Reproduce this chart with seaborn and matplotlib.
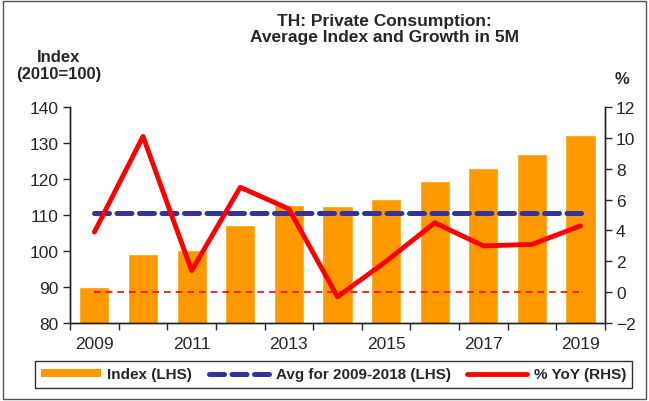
import seaborn as sns
import pandas as pd
import numpy as np
import matplotlib.pyplot as plt
from matplotlib.patches import Rectangle
from matplotlib.lines import Line2D
from matplotlib.patches import Patch

years = ['2009', '2010', '2011', '2012', '2013', '2014', '2015', '2016', '2017', '2018', '2019']
index_vals = [90.1, 99.1, 100.4, 107.3, 112.9, 112.4, 114.6, 119.6, 123.1, 126.9, 132.3]
yoy_vals = [3.9, 10.1, 1.4, 6.8, 5.4, -0.3, 2.0, 4.5, 3.0, 3.1, 4.3]
avg_index = 110.5
label_years = ['2009', '2011', '2013', '2015', '2017', '2019']

df = pd.DataFrame({'year': years, 'index': index_vals, 'yoy': yoy_vals})
df['pos'] = np.arange(len(df))
df['avg'] = avg_index
df['zero'] = 0.0

sns.set_style('white')
plt.rcParams['font.family'] = ['Liberation Sans', 'DejaVu Sans']

fig = plt.figure(figsize=(6.49, 4.02), dpi=100)
ax = fig.add_axes([0.108, 0.194, 0.824, 0.537])

sns.barplot(x='year', y='index', data=df, color='#FF9900', width=0.62, saturation=1, ax=ax)
sns.lineplot(x='pos', y='avg', data=df, color='#333399', lw=3.6, ax=ax)
ax.lines[-1].set_dashes([3, 1.5])
ax.lines[-1].set_dash_capstyle('round')
ax.set_ylim(80, 140)
ax.set_yticks(range(80, 141, 10))

ax2 = ax.twinx()
sns.lineplot(x='pos', y='zero', data=df, color='#FF0000', lw=1.2, ls=(0, (4, 3)), ax=ax2)
sns.lineplot(x='pos', y='yoy', data=df, color='#FF0000', lw=3.5, ax=ax2)
ax2.set_ylim(-2, 12)
ax2.set_yticks(range(-2, 13, 2))

ax.set_xlim(-0.5, 10.5)
ax.set_xticks(np.arange(-0.5, 11, 1))
ax.set_xticklabels([])
ax.set_xticks(range(0, 11, 2), minor=True)
ax.set_xticklabels(label_years, minor=True)
ax.tick_params(axis='x', which='major', length=5, width=1, direction='out', bottom=True)
ax.tick_params(axis='x', which='minor', length=0, pad=9, labelsize=12.5)
ax.tick_params(axis='y', length=5, width=1, direction='out', left=True, labelsize=12.5, pad=3)
ax2.tick_params(axis='y', length=5, width=1, direction='out', right=True, labelsize=12.5, pad=3)
ax.set_xlabel('')
ax.set_ylabel('')
ax2.set_ylabel('')

for a in (ax, ax2):
    a.spines['top'].set_visible(False)
    for s in ('left', 'right', 'bottom'):
        a.spines[s].set_color('#222222')
        a.spines[s].set_linewidth(1)

fig.text(0.593, 0.965, 'TH: Private Consumption:\nAverage Index and Growth in 5M',
         ha='center', va='top', fontsize=12.5, fontweight='bold', linespacing=1.1)
fig.text(0.09, 0.875, 'Index\n(2010=100)', ha='center', va='top', fontsize=12,
         fontweight='bold', linespacing=1.15)
fig.text(0.958, 0.82, '%', ha='center', va='top', fontsize=12, fontweight='bold')

handles = [Patch(facecolor='#FF9900', edgecolor='none'),
           Line2D([0], [0], color='#333399', lw=3.6, dashes=[3, 1.5], dash_capstyle='round'),
           Line2D([0], [0], color='#FF0000', lw=3.5)]
labels = ['Index (LHS)', 'Avg for 2009-2018 (LHS)', '% YoY (RHS)']
leg = fig.legend(handles, labels, loc='center', bbox_to_anchor=(0.514, 0.066), ncol=3,
                 frameon=True, fancybox=False, edgecolor='black', handlelength=3.9,
                 handleheight=0.45, columnspacing=1.1, handletextpad=0.45,
                 borderpad=0.4, borderaxespad=0, prop={'weight': 'bold', 'size': 11})
leg.get_frame().set_linewidth(1)

fig.patches.append(Rectangle((0.004, 0.005), 0.992, 0.99, transform=fig.transFigure,
                             fill=False, edgecolor='#555555', lw=1))

fig.savefig('out.png', dpi=100)
